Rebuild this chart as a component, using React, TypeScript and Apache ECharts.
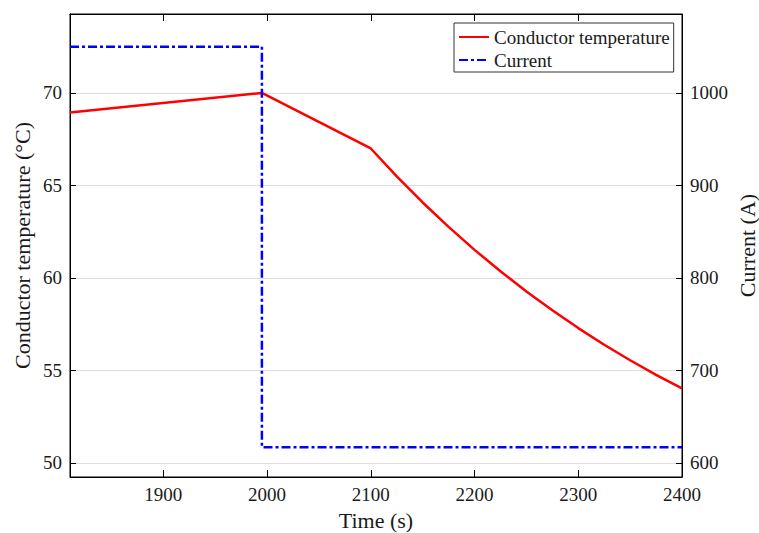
import React, { useEffect, useRef } from "react";
import * as echarts from "echarts";

// Conductor temperature (°C) over time (s)
const tempTime = [1810, 1995, 2100, 2125, 2150, 2175, 2200, 2225, 2250, 2275, 2300, 2325, 2350, 2375, 2400];
const tempValues = [68.95, 70.0, 67.0, 65.49, 64.08, 62.76, 61.52, 60.36, 59.27, 58.25, 57.29, 56.39, 55.55, 54.76, 54.03];

// Load current (A) step
const currentTime = [1810, 1995, 1995, 2400];
const currentValues = [1050, 1050, 617, 617];

// Axis limits
const timeMin = 1810;
const timeMax = 2400;
const tempMin = 49.24;
const tempMax = 74.27;
const currentMin = 584.8;
const currentMax = 1085.4;

const FONT = "Liberation Serif";
const INK = "#1a1a1a";

export default function App() {
  const ref = useRef<HTMLDivElement>(null);

  useEffect(() => {
    const chart = echarts.init(ref.current!, null, { renderer: "svg" });

    const axisLine = { show: true, lineStyle: { color: "#000", width: 1 } };
    const plain = (v: number) => String(v);
    const label = { fontSize: 19, fontFamily: FONT, color: INK, formatter: plain };
    const nameStyle = { fontSize: 22, fontFamily: FONT, color: INK };

    chart.setOption({
      animation: false,
      backgroundColor: "#fff",
      textStyle: { fontFamily: FONT, color: INK },
      grid: {
        left: 70,
        right: 77,
        top: 14,
        bottom: 56,
        show: true,
        borderColor: "#000",
        borderWidth: 1,
        containLabel: false,
        outerBoundsMode: "none",
      },
      legend: {
        orient: "vertical",
        left: 454,
        top: 23,
        padding: [4, 4, 2, 4],
        itemWidth: 30,
        itemHeight: 14,
        itemGap: 3,
        backgroundColor: "#fff",
        borderColor: "#333",
        borderWidth: 1,
        borderRadius: 0,
        itemStyle: { opacity: 0 },
        textStyle: { fontSize: 19, fontFamily: FONT, color: INK, lineHeight: 20 },
        data: ["Conductor temperature", "Current"],
      },
      xAxis: [
        {
          type: "value",
          min: timeMin,
          max: timeMax,
          position: "bottom",
          name: "Time (s)",
          nameLocation: "middle",
          nameGap: 32,
          nameMoveOverlap: false,
          nameTextStyle: nameStyle,
          axisLine,
          axisTick: { show: true, inside: true, length: 7, lineStyle: { color: "#000" } },
          axisLabel: { ...label, margin: 8, showMinLabel: false },
          splitLine: { show: false },
        },
        {
          type: "value",
          min: timeMin,
          max: timeMax,
          position: "top",
          axisLine,
          axisTick: { show: true, inside: true, length: 7, lineStyle: { color: "#000" } },
          axisLabel: { show: false },
          splitLine: { show: false },
        },
      ],
      yAxis: [
        {
          type: "value",
          min: tempMin,
          max: tempMax,
          position: "left",
          name: "Conductor temperature (°C)",
          nameLocation: "middle",
          nameRotate: 90,
          nameGap: 37,
          nameMoveOverlap: false,
          nameTextStyle: nameStyle,
          axisLine,
          axisTick: { show: true, inside: true, length: 6, lineStyle: { color: "#000" } },
          axisLabel: { ...label, margin: 8, showMinLabel: false, showMaxLabel: false },
          splitLine: { show: true, lineStyle: { color: "#dedede", width: 1 } },
        },
        {
          type: "value",
          min: currentMin,
          max: currentMax,
          position: "right",
          name: "Current (A)",
          nameLocation: "middle",
          nameRotate: 90,
          nameGap: 54,
          nameMoveOverlap: false,
          nameTextStyle: nameStyle,
          axisLine,
          axisTick: { show: true, inside: true, length: 6, lineStyle: { color: "#000" } },
          axisLabel: { ...label, margin: 8, showMinLabel: false, showMaxLabel: false },
          splitLine: { show: false },
        },
      ],
      series: [
        {
          name: "Conductor temperature",
          type: "line",
          xAxisIndex: 0,
          yAxisIndex: 0,
          symbol: "none",
          data: tempTime.map((t, i) => [t, tempValues[i]]),
          lineStyle: { color: "#ff0000", width: 2.5 },
          itemStyle: { color: "#ff0000" },
        },
        {
          name: "Current",
          type: "line",
          xAxisIndex: 0,
          yAxisIndex: 1,
          symbol: "none",
          data: currentTime.map((t, i) => [t, currentValues[i]]),
          lineStyle: { color: "#0000ff", width: 2.5, type: [9, 3, 3, 3] },
          itemStyle: { color: "#0000ff" },
        },
      ],
    });

    return () => chart.dispose();
  }, []);

  return (
    <div
      ref={ref}
      style={{ position: "absolute", left: 0, top: 0, width: 759, height: 533 }}
    />
  );
}
